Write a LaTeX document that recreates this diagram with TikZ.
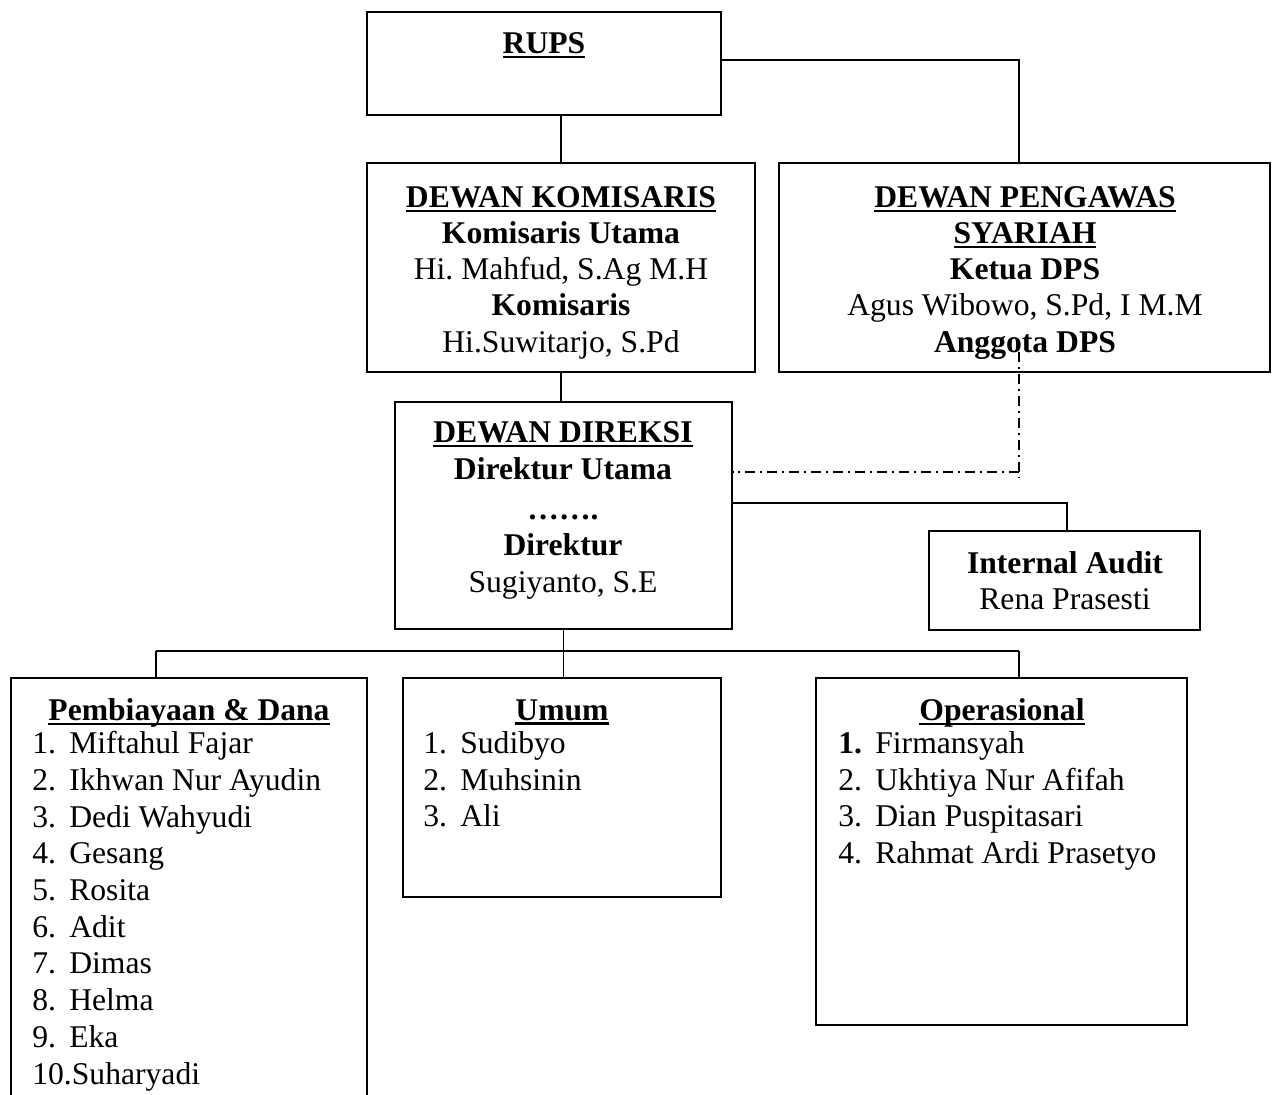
\documentclass[tikz,border=0pt]{standalone}
\usepackage{fontspec}
\setmainfont{Liberation Serif}
\usetikzlibrary{fit}
\frenchspacing

\newsavebox{\headbox}
\newcommand{\unithead}[1]{\sbox{\headbox}{\textbf{#1}}\rlap{\rule[-2.6pt]{\wd\headbox}{1.3pt}}\usebox{\headbox}}
\newcommand{\staff}[2]{\makebox[0.74cm][l]{#1}#2}

\begin{document}
\begin{tikzpicture}[
  x=0.02cm, y=-0.02cm,
  frame/.style={draw, line width=1.1pt, inner sep=0pt},
  txt/.style={inner sep=0pt, anchor=north, align=center, font=\fontsize{18}{20.6}\selectfont},
  lst/.style={inner sep=0pt, anchor=north west, align=left, font=\fontsize{18}{20.9}\selectfont},
  link/.style={line width=1.1pt},
  dpslink/.style={line width=1.1pt, dash pattern=on 0.2cm off 0.1cm on 0.04cm off 0.1cm}
]
  \clip (0,0) rectangle (1275,1095);

  % boxes
  \node[frame, fit={(367,12) (721,115)}] (rups) {};
  \node[frame, fit={(367,163) (755,372)}] (komisaris) {};
  \node[frame, fit={(779,163) (1270,372)}] (pengawas) {};
  \node[frame, fit={(395,402) (732,629)}] (direksi) {};
  \node[frame, fit={(929,531) (1200,630)}] (audit) {};
  \node[frame, fit={(11,678) (367,1120)}] (pembiayaan) {};
  \node[frame, fit={(403,678) (721,897)}] (umum) {};
  \node[frame, fit={(816,678) (1187,1025)}] (operasional) {};

  % texts
  \node[txt] (rupstxt) at (544,32) {\unithead{RUPS}};
  \node[txt] (komisaristxt) at (561,186) {\unithead{DEWAN KOMISARIS}\\\textbf{Komisaris Utama}\\Hi. Mahfud, S.Ag M.H\\\textbf{Komisaris}\\Hi.Suwitarjo, S.Pd};
  \node[txt] (pengawastxt) at (1025,186) {\unithead{DEWAN PENGAWAS}\\\unithead{SYARIAH}\\\textbf{Ketua DPS}\\Agus Wibowo, S.Pd, I M.M\\\textbf{Anggota DPS}};
  \node[txt, font=\fontsize{18}{20.9}\selectfont] (direksitxt) at (563,421) {\unithead{DEWAN DIREKSI}\\\textbf{Direktur Utama}\\[2pt]\textbf{…….}\\\textbf{Direktur}\\Sugiyanto, S.E};
  \node[txt] (audittxt) at (1065,551) {\textbf{Internal Audit}\\Rena Prasesti};

  \node[txt] (pembiayaantxt) at (189,698) {\unithead{Pembiayaan \& Dana}};
  \node[lst] (pembiayaanlist) at (32,731) {\staff{1.}{Miftahul Fajar}\\\staff{2.}{Ikhwan Nur Ayudin}\\\staff{3.}{Dedi Wahyudi}\\\staff{4.}{Gesang}\\\staff{5.}{Rosita}\\\staff{6.}{Adit}\\\staff{7.}{Dimas}\\\staff{8.}{Helma}\\\staff{9.}{Eka}\\10.Suharyadi};
  \node[txt] (umumtxt) at (562,699) {\unithead{Umum}};
  \node[lst] (umumlist) at (423,731) {\staff{1.}{Sudibyo}\\\staff{2.}{Muhsinin}\\\staff{3.}{Ali}};
  \node[txt] (operasionaltxt) at (1002,698) {\unithead{Operasional}};
  \node[lst] (operasionallist) at (838,731) {\staff{\textbf{1.}}{Firmansyah}\\\staff{2.}{Ukhtiya Nur Afifah}\\\staff{3.}{Dian Puspitasari}\\\staff{4.}{Rahmat Ardi Prasetyo}};

  % connectors
  \coordinate (dpsjoin) at (1019,60);
  \coordinate (dpstop) at (1019,352);
  \coordinate (dpsbend) at (1019,472);
  \coordinate (auditjoin) at (1067,503);
  \coordinate (busleft) at (156,651);
  \coordinate (busright) at (1019,651);

  \draw[link] (komisaris.north) -- (komisaris.north |- rups.south);
  \draw[link] (rups.east |- dpsjoin) -- (dpsjoin) -- (dpsjoin |- pengawas.north);
  \draw[link] (komisaris.south) -- (komisaris.south |- direksi.north);
  \draw[dpslink] (dpstop) -- ++(0,126);
  \draw[dpslink] (dpsbend) -- (direksi.east |- dpsbend);
  \draw[link] (direksi.east |- auditjoin) -- (auditjoin) -- (auditjoin |- audit.north);
  \draw[link] (direksi.south) -- (direksi.south |- umum.north);
  \draw[link] (busleft) -- (busright);
  \draw[link] (busleft) -- (busleft |- pembiayaan.north);
  \draw[link] (busright) -- (busright |- operasional.north);
\end{tikzpicture}
\end{document}
